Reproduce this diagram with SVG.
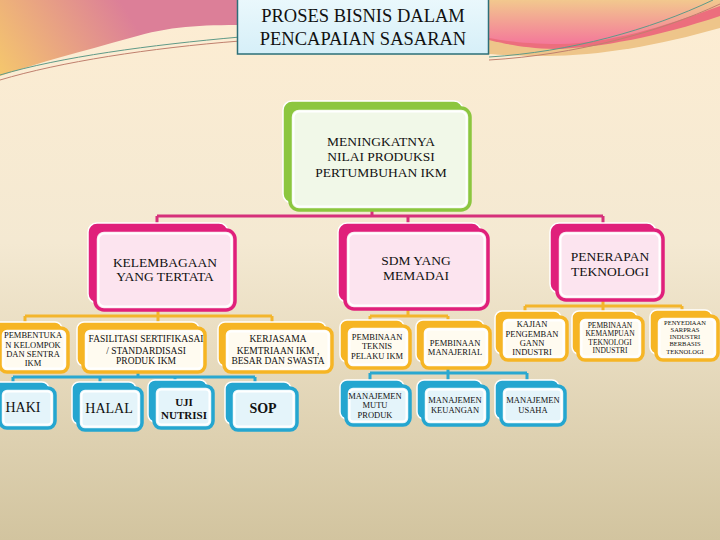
<svg xmlns="http://www.w3.org/2000/svg" width="720" height="540" viewBox="0 0 720 540">
<defs>
<linearGradient id="bg" x1="0" y1="0" x2="0" y2="1">
<stop offset="0" stop-color="#fdedd3"/><stop offset="0.45" stop-color="#f4e9d2"/><stop offset="1" stop-color="#d2c49f"/>
</linearGradient>
<linearGradient id="decoL" gradientUnits="userSpaceOnUse" x1="120" y1="0" x2="0" y2="75">
<stop offset="0" stop-color="#dc7f98"/><stop offset="1" stop-color="#f5c76d"/>
</linearGradient>
<linearGradient id="decoR" gradientUnits="userSpaceOnUse" x1="0" y1="0" x2="0" y2="44">
<stop offset="0" stop-color="#f2c88e"/><stop offset="1" stop-color="#f4789a"/>
</linearGradient>
<linearGradient id="titleFill" x1="0" y1="0" x2="0" y2="1">
<stop offset="0" stop-color="#eaf8fc"/><stop offset="1" stop-color="#d6eff8"/>
</linearGradient>
</defs>
<style>
text{font-family:"Liberation Serif","Times New Roman",serif;fill:#111;text-anchor:middle}
.in{fill:none;stroke:#fff;stroke-width:2}
.bg{fill:#8cc63f;stroke:#fff;stroke-width:1.5}
.fg{fill:#f1f8e8;stroke:#8cc63f;stroke-width:3.5}
.bp{fill:#e0207b;stroke:#fff;stroke-width:1.5}
.fp{fill:#fce4ef;stroke:#e0207b;stroke-width:3.5}
.bo{fill:#f6b524;stroke:#fff;stroke-width:1.5}
.fo{fill:#fffbf0;stroke:#f6b524;stroke-width:3.5}
.bb{fill:#25a6d0;stroke:#fff;stroke-width:1.5}
.fb{fill:#e4f4fa;stroke:#25a6d0;stroke-width:3.5}
.cp{stroke:#d6307a;stroke-width:3;fill:none}
.co{stroke:#f3b52c;stroke-width:3;fill:none}
.cb{stroke:#2aa8d0;stroke-width:3;fill:none}
.t1{font-size:13.5px}
.t2{font-size:9.5px}
.t3{font-size:8.5px}
.t4{font-size:7.5px}
.t5{font-size:6.5px}
.t6{font-size:14px}
</style>
<rect width="720" height="540" fill="url(#bg)"/>
<g id="decoration">
<path d="M0,0 H245 V25 C200,25 170,26 130,38 C80,52 40,62 0,76 Z" fill="url(#decoL)"/>
<path d="M489,0 H720 V28 C660,45 600,56 545,56 C520,56 500,55 489,54 Z" fill="#eec58a"/>
<path d="M489,0 H720 V16 C660,36 600,48 555,49 C525,48 505,44 489,40 Z" fill="#ec6e7d"/>
<path d="M489,0 H720 V6 C660,28 610,43 560,44 C525,44 505,41 489,38 Z" fill="url(#decoR)"/>
<path d="M0,75 C60,57 150,45 240,37" stroke="#5f9a88" stroke-width="1" fill="none"/>
<path d="M0,80 C60,62 150,48 240,41" stroke="#c0806e" stroke-width="1" fill="none"/>
<path d="M489,57 C570,52 650,30 713,0" stroke="#5f9a88" stroke-width="1" fill="none"/>
<path d="M489,60 C575,55 660,32 720,4" stroke="#c0806e" stroke-width="1" fill="none"/>
</g>
<g id="title">
<rect x="237.5" y="-1" width="251" height="55" fill="url(#titleFill)" stroke="#2d6f78" stroke-width="1.5"/>
<text x="363" y="22" font-size="18.5">PROSES BISNIS DALAM</text>
<text x="363" y="45" font-size="18.5">PENCAPAIAN SASARAN</text>
</g>
<g id="connectors">
<path class="cp" d="M372,208 V216 M157,216 H603 M157,216 V224 M408,216 V224 M603,216 V224"/>
<path class="co" d="M158,308 V316 M25,316 H272 M25,316 V323 M158,316 V323 M272,316 V323"/>
<path class="co" d="M408,307 V316 M370,316 H448 M370,316 V321 M448,316 V321"/>
<path class="co" d="M603,298 V306 M525,306 H682 M525,306 V312 M603,306 V312 M682,306 V311"/>
<path class="cb" d="M138,370 V377 M13,377 H255 M13,377 V383 M100,377 V383 M175,377 V381 M255,377 V383"/>
<path class="cb" d="M448,366 V373 M370,373 H527 M370,373 V381 M448,373 V381 M527,373 V381"/>
</g>
<g id="n-top">
<rect class="bg" x="283" y="101" width="180" height="102" rx="9"/>
<rect class="fg" x="290" y="108" width="180" height="102" rx="9"/>
<rect class="in" x="293.5" y="111.5" width="173" height="95" rx="6"/>
<text class="t1" x="381" y="146">MENINGKATNYA</text>
<text class="t1" x="381" y="161">NILAI PRODUKSI</text>
<text class="t1" x="381" y="177">PERTUMBUHAN IKM</text>
</g>
<g id="n-kelembagaan">
<rect class="bp" x="88" y="223" width="140" height="80" rx="9"/>
<rect class="fp" x="95" y="230" width="140" height="80" rx="9"/>
<rect class="in" x="98.5" y="233.5" width="133" height="73" rx="6"/>
<text class="t1" x="165" y="267">KELEMBAGAAN</text>
<text class="t1" x="165" y="281">YANG TERTATA</text>
</g>
<g id="n-sdm">
<rect class="bp" x="338" y="223" width="143" height="79" rx="9"/>
<rect class="fp" x="345" y="230" width="143" height="79" rx="9"/>
<rect class="in" x="348.5" y="233.5" width="136" height="72" rx="6"/>
<text class="t1" x="416" y="265">SDM YANG</text>
<text class="t1" x="416" y="280">MEMADAI</text>
</g>
<g id="n-penerapan">
<rect class="bp" x="550" y="223" width="106" height="70" rx="9"/>
<rect class="fp" x="557" y="230" width="106" height="70" rx="9"/>
<rect class="in" x="560.5" y="233.5" width="99" height="63" rx="6"/>
<text class="t1" x="610" y="261">PENERAPAN</text>
<text class="t1" x="610" y="276">TEKNOLOGI</text>
</g>
<g id="n-pembentukan">
<rect class="bo" x="-6" y="322" width="68" height="44" rx="7"/>
<rect class="fo" x="0" y="328" width="68" height="44" rx="7"/>
<rect class="in" x="3.5" y="331.5" width="61" height="37" rx="4"/>
<text class="t3" x="33" y="338">PEMBENTUKA</text>
<text class="t3" x="33" y="347.5">N KELOMPOK</text>
<text class="t3" x="33" y="356.5">DAN SENTRA</text>
<text class="t3" x="33" y="366">IKM</text>
</g>
<g id="n-fasilitasi">
<rect class="bo" x="77" y="322" width="122" height="44" rx="7"/>
<rect class="fo" x="83" y="328" width="122" height="44" rx="7"/>
<rect class="in" x="86.5" y="331.5" width="115" height="37" rx="4"/>
<text class="t2" x="146" y="342">FASILITASI SERTIFIKASAI</text>
<text class="t2" x="146" y="353.5">/ STANDARDISASI</text>
<text class="t2" x="146" y="364">PRODUK IKM</text>
</g>
<g id="n-kerjasama">
<rect class="bo" x="218" y="322" width="108" height="44" rx="7"/>
<rect class="fo" x="224" y="328" width="108" height="44" rx="7"/>
<rect class="in" x="227.5" y="331.5" width="101" height="37" rx="4"/>
<text class="t2" x="278" y="342">KERJASAMA</text>
<text class="t2" x="278" y="353.5">KEMTRIAAN IKM ,</text>
<text class="t2" x="278" y="364">BESAR DAN SWASTA</text>
</g>
<g id="n-teknis">
<rect class="bo" x="340" y="320" width="64" height="42" rx="7"/>
<rect class="fo" x="346" y="326" width="64" height="42" rx="7"/>
<rect class="in" x="349.5" y="329.5" width="57" height="35" rx="4"/>
<text class="t3" x="377" y="340">PEMBINAAN</text>
<text class="t3" x="377" y="349">TEKNIS</text>
<text class="t3" x="377" y="359">PELAKU IKM</text>
</g>
<g id="n-manajerial">
<rect class="bo" x="416" y="320" width="68" height="42" rx="7"/>
<rect class="fo" x="422" y="326" width="68" height="42" rx="7"/>
<rect class="in" x="425.5" y="329.5" width="61" height="35" rx="4"/>
<text class="t3" x="455" y="346">PEMBINAAN</text>
<text class="t3" x="455" y="355">MANAJERIAL</text>
</g>
<g id="n-kajian">
<rect class="bo" x="495" y="311" width="66" height="43" rx="7"/>
<rect class="fo" x="501" y="317" width="66" height="43" rx="7"/>
<rect class="in" x="504.5" y="320.5" width="59" height="36" rx="4"/>
<text class="t3" x="532" y="326.5">KAJIAN</text>
<text class="t3" x="532" y="336.5">PENGEMBAN</text>
<text class="t3" x="532" y="346">GANN</text>
<text class="t3" x="532" y="355">INDUSTRI</text>
</g>
<g id="n-kemampuan">
<rect class="bo" x="572" y="311" width="65" height="43" rx="7"/>
<rect class="fo" x="578" y="317" width="65" height="43" rx="7"/>
<rect class="in" x="581.5" y="320.5" width="58" height="36" rx="4"/>
<text class="t4" x="610" y="327.5">PEMBINAAN</text>
<text class="t4" x="610" y="336">KEMAMPUAN</text>
<text class="t4" x="610" y="344.5">TEKNOLOGI</text>
<text class="t4" x="610" y="352.5">INDUSTRI</text>
</g>
<g id="n-penyediaan">
<rect class="bo" x="650" y="310" width="62" height="44" rx="7"/>
<rect class="fo" x="656" y="316" width="62" height="44" rx="7"/>
<rect class="in" x="659.5" y="319.5" width="55" height="37" rx="4"/>
<text class="t5" x="685" y="325">PENYEDIAAN</text>
<text class="t5" x="685" y="331.5">SARPRAS</text>
<text class="t5" x="685" y="339">INDUSTRI</text>
<text class="t5" x="685" y="346">BERBASIS</text>
<text class="t5" x="685" y="354">TEKNOLOGI</text>
</g>
<g id="n-haki">
<rect class="bb" x="-6" y="382" width="55" height="40" rx="7"/>
<rect class="fb" x="0" y="388" width="55" height="40" rx="7"/>
<rect class="in" x="3.5" y="391.5" width="48" height="33" rx="4"/>
<text class="t6" x="23" y="412">HAKI</text>
</g>
<g id="n-halal">
<rect class="bb" x="72" y="382" width="64" height="42" rx="7"/>
<rect class="fb" x="78" y="388" width="64" height="42" rx="7"/>
<rect class="in" x="81.5" y="391.5" width="57" height="35" rx="4"/>
<text class="t6" x="109" y="413">HALAL</text>
</g>
<g id="n-uji">
<rect class="bb" x="148" y="380" width="59" height="42" rx="7"/>
<rect class="fb" x="154" y="386" width="59" height="42" rx="7"/>
<rect class="in" x="157.5" y="389.5" width="52" height="35" rx="4"/>
<text x="184" y="405.5" font-size="11" font-weight="bold">UJI</text>
<text x="184" y="419" font-size="11" font-weight="bold">NUTRISI</text>
</g>
<g id="n-sop">
<rect class="bb" x="225" y="382" width="66" height="42" rx="7"/>
<rect class="fb" x="231" y="388" width="66" height="42" rx="7"/>
<rect class="in" x="234.5" y="391.5" width="59" height="35" rx="4"/>
<text x="263" y="413" font-size="14" font-weight="bold">SOP</text>
</g>
<g id="n-mutu">
<rect class="bb" x="340" y="380" width="64" height="39" rx="7"/>
<rect class="fb" x="346" y="386" width="64" height="39" rx="7"/>
<rect class="in" x="349.5" y="389.5" width="57" height="32" rx="4"/>
<text class="t3" x="375" y="399">MANAJEMEN</text>
<text class="t3" x="375" y="408">MUTU</text>
<text class="t3" x="375" y="418">PRODUK</text>
</g>
<g id="n-keuangan">
<rect class="bb" x="417" y="380" width="65" height="39" rx="7"/>
<rect class="fb" x="423" y="386" width="65" height="39" rx="7"/>
<rect class="in" x="426.5" y="389.5" width="58" height="32" rx="4"/>
<text class="t3" x="455" y="403">MANAJEMEN</text>
<text class="t3" x="455" y="413">KEUANGAN</text>
</g>
<g id="n-usaha">
<rect class="bb" x="495" y="380" width="64" height="39" rx="7"/>
<rect class="fb" x="501" y="386" width="64" height="39" rx="7"/>
<rect class="in" x="504.5" y="389.5" width="57" height="32" rx="4"/>
<text class="t3" x="533" y="403">MANAJEMEN</text>
<text class="t3" x="533" y="413">USAHA</text>
</g>
</svg>
